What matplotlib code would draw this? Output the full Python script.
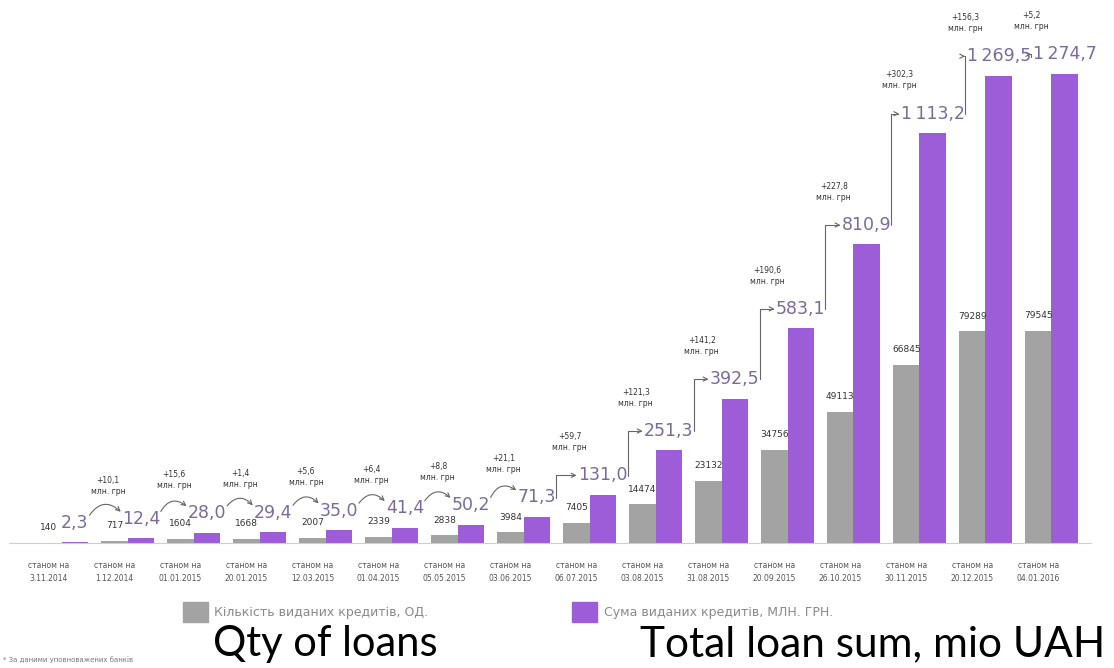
import numpy as np
import matplotlib.pyplot as plt
from matplotlib.patches import Patch

# data
dates = ["3.11.2014", "1.12.2014", "01.01.2015", "20.01.2015", "12.03.2015",
         "01.04.2015", "05.05.2015", "03.06.2015", "06.07.2015", "03.08.2015",
         "31.08.2015", "20.09.2015", "26.10.2015", "30.11.2015", "20.12.2015",
         "04.01.2016"]
qty = [140, 717, 1604, 1668, 2007, 2339, 2838, 3984, 7405, 14474, 23132,
       34756, 49113, 66845, 79289, 79545]
total = [2.3, 12.4, 28.0, 29.4, 35.0, 41.4, 50.2, 71.3, 131.0, 251.3, 392.5,
         583.1, 810.9, 1113.2, 1269.5, 1274.7]
delta = [10.1, 15.6, 1.4, 5.6, 6.4, 8.8, 21.1, 59.7, 121.3, 141.2, 190.6,
         227.8, 302.3, 156.3, 5.2]

qty_label = "Кількість виданих кредитів, ОД."
total_label = "Сума виданих кредитів, МЛН. ГРН."

GRAY = "#a3a3a3"
PURPLE = "#9d5cd8"
LABEL_PURPLE = "#7b6a9e"


def fmt(v):
    s = "{:,.1f}".format(v)
    return s.replace(",", "\u2009").replace(".", ",")


fig = plt.figure(figsize=(11.14, 6.68), dpi=100)
ax = fig.add_axes([9 / 1114, 125 / 668, 1082 / 1114, 543 / 668])
ax2 = ax.twinx()

x = np.arange(len(dates))
w = 0.4
ax2.bar(x - w / 2, qty, w, color=GRAY)
ax.bar(x + w / 2, total, w, color=PURPLE)

ax.set_xlim(-0.8, 15.6)
ax.set_ylim(0, 1475)
ax2.set_ylim(0, 203400)
for a in (ax, ax2):
    a.set_yticks([])
    for s in ("top", "left", "right", "bottom"):
        a.spines[s].set_visible(False)
ax.spines["bottom"].set_visible(True)
ax.spines["bottom"].set_color("#cfcfcf")

ax.set_xticks(x - w / 2)
ax.set_xticklabels(["станом на\n" + d for d in dates], linespacing=1.6)
ax.tick_params(axis="x", length=0, pad=13, labelsize=5.5, labelcolor="#555555")

# value labels
for xi, q in zip(x, qty):
    ax2.annotate(str(q), (xi - w / 2, q), xytext=(0, 11), textcoords="offset points",
                 ha="center", va="center", fontsize=6.5, color="#333333",
                 annotation_clip=False)

labs = []
for xi, v in zip(x, total):
    t = ax.annotate(fmt(v), (xi + w / 2, v), xytext=(0, 14), textcoords="offset points",
                    ha="center", va="center", fontsize=12.5, color=LABEL_PURPLE,
                    annotation_clip=False)
    labs.append(t)

# connectors and increments
for i, d in enumerate(delta):
    if i < 7:
        cs = "arc3,rad=-0.6"
        a_from, a_to = (1.0, 0.85), (0.0, 0.85)
    else:
        cs = "angle,angleA=90,angleB=0,rad=0"
        a_from, a_to = (1.0, 0.4), (0.0, 0.5)
    ax.annotate("", xy=a_to, xycoords=labs[i + 1], xytext=a_from, textcoords=labs[i],
                arrowprops=dict(arrowstyle="->,head_length=0.3,head_width=0.15",
                                color="#666666", lw=0.8, connectionstyle=cs,
                                shrinkA=1, shrinkB=1))
    ax.annotate("+" + fmt(d) + "\nмлн. грн", (x[i] + w / 2 + 0.5, total[i + 1]),
                xytext=(0, 38), textcoords="offset points", ha="center", va="center",
                fontsize=5.5, color="#333333", linespacing=1.3,
                annotation_clip=False)

fig.legend(handles=[Patch(color=GRAY), Patch(color=PURPLE)],
           labels=[qty_label, total_label], ncol=2, frameon=False,
           loc="center left", bbox_to_anchor=(172 / 1114, 1 - 612 / 668),
           fontsize=9, labelcolor="#8a8a8a", handlelength=2.0, handleheight=2.2,
           handletextpad=0.5, columnspacing=11.5)

fig.text(213 / 1114, 1 - 656 / 668, "Qty of loans", fontsize=30, family="Lato",
         va="baseline", color="black")
fig.text(640 / 1114, 1 - 656 / 668, "Total loan sum, mio UAH", fontsize=30.5,
         family="Lato", va="baseline", color="black")
fig.text(3 / 1114, 1 - 660 / 668, "* За даними уповноважених банків", fontsize=5,
         color="#777777", va="center")

fig.savefig("out.png", dpi=100)
